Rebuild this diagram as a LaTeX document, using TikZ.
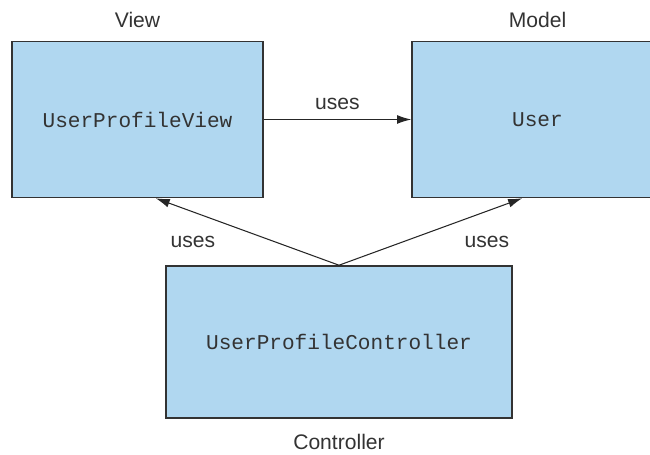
\documentclass[tikz,border=0pt]{standalone}
\usepackage{fontspec}
\setmainfont{Liberation Sans}
\setmonofont{Liberation Mono}
\usepackage{xcolor}
\usepackage{tikz}
\usetikzlibrary{arrows.meta}
\definecolor{boxblue}{RGB}{176,215,240}
\definecolor{inkgray}{RGB}{51,51,51}
\tikzset{
  mvcbox/.style={draw=inkgray,line width=0.9pt,fill=boxblue,text=inkgray,
    font=\fontsize{12}{14}\selectfont\ttfamily},
  tag/.style={text=inkgray,font=\fontsize{12}{14}\selectfont},
  usesarrow/.style={-{Latex[length=8pt,width=5pt]},line width=0.6pt,draw=black!85}
}
\begin{document}
\begin{tikzpicture}[x=0.02cm,y=-0.02cm]
\useasboundingbox (0,0) rectangle (650,455);
\node[mvcbox,minimum width=5.02cm,minimum height=3.12cm](view) at (137.5,119.5){UserProfileView};
\node[mvcbox,minimum width=5.02cm,minimum height=3.12cm](model) at (537.5,119.5){User};
\node[mvcbox,minimum width=6.92cm,minimum height=3.04cm](ctrl) at (339,342){UserProfileController};
\node[tag](viewtag) at (137.5,20){View};
\node[tag](modeltag) at (537.5,20){Model};
\node[tag](ctrltag) at (339,442){Controller};
\draw[usesarrow](view.east)--(model.west)node[tag,midway,above=2pt]{uses};
\draw[usesarrow](ctrl.north)--(view.-77);
\draw[usesarrow](ctrl.north)--(model.-101);
\node[tag](usesl) at (193,242){uses};
\node[tag](usesr) at (487,242){uses};
\end{tikzpicture}
\end{document}
